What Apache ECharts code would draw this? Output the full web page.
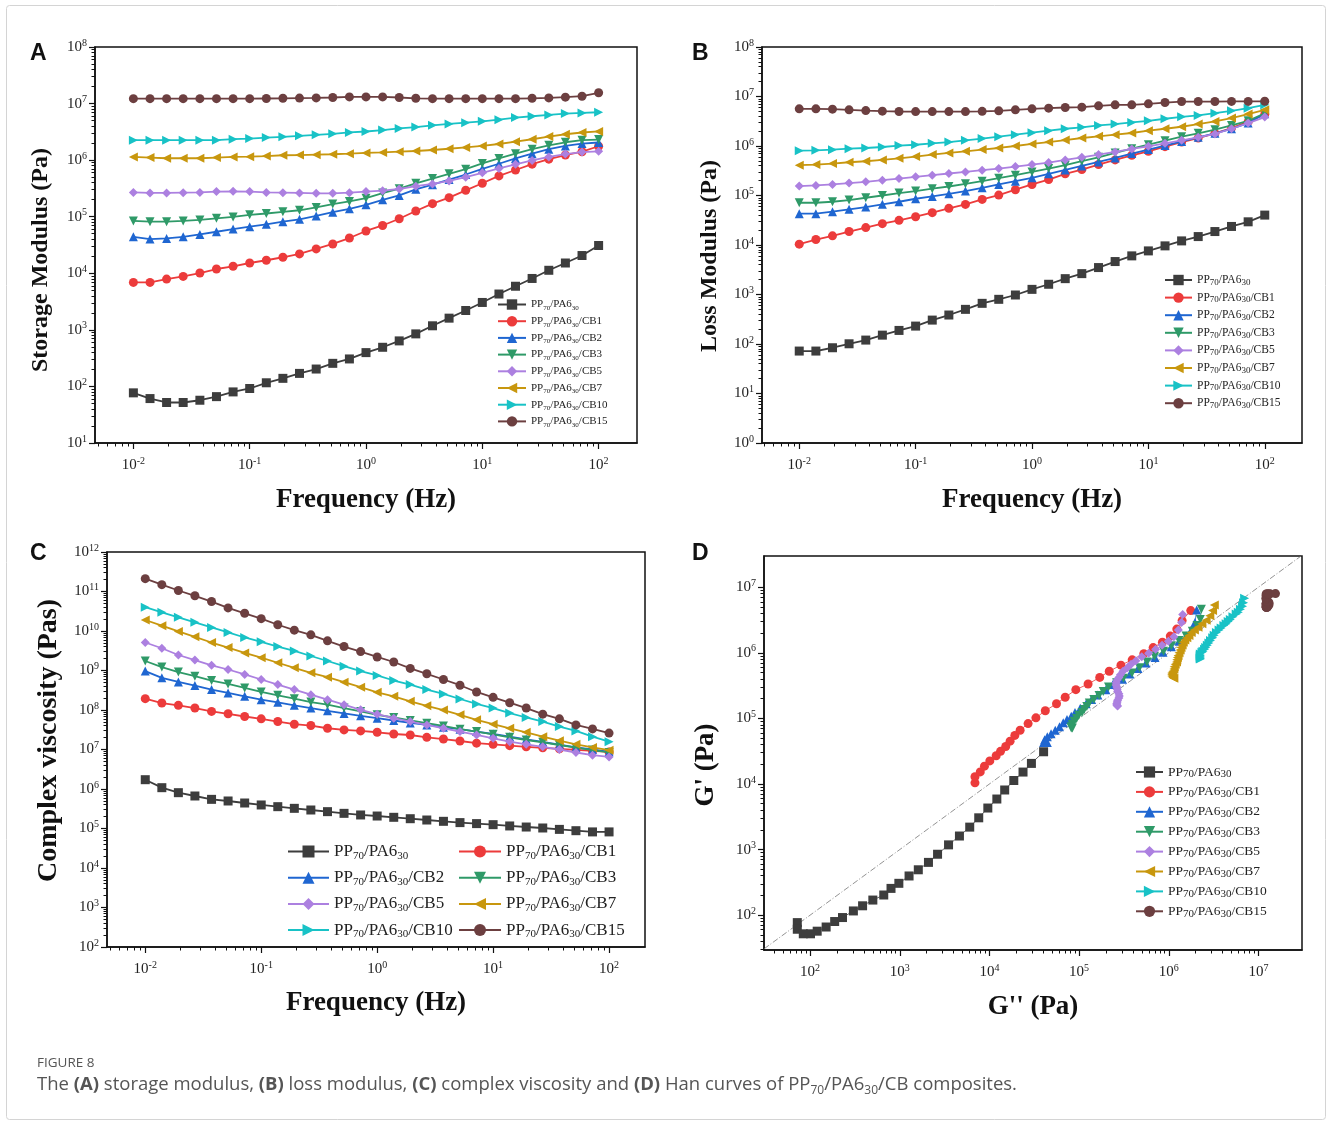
<!DOCTYPE html>
<html>
<head>
<meta charset="utf-8">
<title>Figure 8</title>
<script src="https://cdn.jsdelivr.net/npm/echarts@6/dist/echarts.min.js"></script>
<style>
  html, body { margin: 0; padding: 0; background: #fff; }
  #chart { width: 1328px; height: 1121px; }
</style>
</head>
<body>
<div id="chart"></div>
<script>
// frequency sweep, 7 points per decade
var freq = [0.01, 0.0139, 0.0193, 0.0268, 0.0373, 0.0518, 0.0720, 0.1, 0.139, 0.193, 0.268, 0.373, 0.518, 0.720,
  1, 1.39, 1.93, 2.68, 3.73, 5.18, 7.20, 10, 13.9, 19.3, 26.8, 37.3, 51.8, 72.0, 100];

var sampleNames = ['PP70/PA630', 'PP70/PA630/CB1', 'PP70/PA630/CB2', 'PP70/PA630/CB3',
  'PP70/PA630/CB5', 'PP70/PA630/CB7', 'PP70/PA630/CB10', 'PP70/PA630/CB15'];

// (A) storage modulus, Pa
var storagePP = [77, 61, 52, 52, 57, 66, 80, 92, 116, 139, 170, 203, 256, 306, 396, 492, 638, 849, 1180, 1610, 2200, 3050, 4300, 5900, 8100, 11300, 15200, 20600, 31000];
var storageCB1 = [6900, 6900, 7900, 8800, 10100, 11900, 13300, 15200, 17000, 19200, 22000, 27000, 33000, 42000, 56000, 70000, 92000, 126000, 170000, 217000, 293000, 391000, 527000, 670000, 850000, 1040000, 1230000, 1410000, 1760000];
var storageCB2 = [44200, 40200, 41300, 44200, 48700, 54200, 60500, 66600, 73300, 81800, 90100, 103000, 120000, 138000, 162000, 199000, 238000, 305000, 369000, 454000, 557000, 703000, 863000, 1070000, 1300000, 1560000, 1780000, 1960000, 2050000];
var storageCB3 = [84100, 81800, 81800, 84100, 87700, 93800, 99100, 108000, 114000, 122000, 130000, 146000, 167000, 186000, 213000, 262000, 313000, 390000, 472000, 572000, 693000, 875000, 1070000, 1300000, 1560000, 1830000, 2070000, 2250000, 2310000];
var storageCB5 = [269000, 263000, 263000, 266000, 269000, 278000, 281000, 278000, 269000, 266000, 263000, 259000, 259000, 266000, 278000, 289000, 309000, 346000, 380000, 430000, 500000, 597000, 714000, 842000, 990000, 1140000, 1280000, 1390000, 1430000];
var storageCB7 = [1.14e6, 1.11e6, 1.08e6, 1.08e6, 1.08e6, 1.11e6, 1.14e6, 1.15e6, 1.18e6, 1.22e6, 1.23e6, 1.25e6, 1.27e6, 1.30e6, 1.34e6, 1.37e6, 1.41e6, 1.45e6, 1.51e6, 1.59e6, 1.68e6, 1.78e6, 1.93e6, 2.12e6, 2.34e6, 2.61e6, 2.87e6, 3.08e6, 3.22e6];
var storageCB10 = [2.25e6, 2.25e6, 2.25e6, 2.25e6, 2.25e6, 2.25e6, 2.35e6, 2.41e6, 2.51e6, 2.58e6, 2.69e6, 2.8e6, 2.92e6, 3.09e6, 3.21e6, 3.4e6, 3.64e6, 3.84e6, 4.12e6, 4.36e6, 4.6e6, 4.86e6, 5.2e6, 5.65e6, 5.97e6, 6.3e6, 6.65e6, 6.83e6, 7.02e6];
var storageCB15 = [1.22e7, 1.22e7, 1.22e7, 1.22e7, 1.22e7, 1.22e7, 1.22e7, 1.22e7, 1.23e7, 1.24e7, 1.25e7, 1.26e7, 1.28e7, 1.31e7, 1.31e7, 1.31e7, 1.28e7, 1.24e7, 1.22e7, 1.22e7, 1.22e7, 1.22e7, 1.22e7, 1.22e7, 1.24e7, 1.26e7, 1.30e7, 1.35e7, 1.55e7];

// (B) loss modulus, Pa
var lossPP = [72, 72, 84, 101, 120, 151, 188, 230, 304, 385, 501, 663, 799, 977, 1270, 1610, 2090, 2640, 3500, 4630, 6030, 7600, 9600, 12100, 14800, 18700, 23700, 29400, 40200];
var lossCB1 = [10400, 12900, 15300, 18700, 22500, 27000, 31500, 37300, 45000, 55000, 66100, 83400, 102000, 131000, 167000, 210000, 274000, 334000, 422000, 524000, 649000, 782000, 970000, 1.2e6, 1.45e6, 1.8e6, 2.3e6, 3.1e6, 4.4e6];
var lossCB2 = [42900, 42900, 47100, 52500, 58500, 66200, 74800, 86000, 95800, 108000, 123000, 143000, 167000, 195000, 228000, 274000, 329000, 396000, 477000, 574000, 702000, 845000, 1.02e6, 1.24e6, 1.5e6, 1.8e6, 2.23e6, 2.9e6, 4.5e6];
var lossCB3 = [71400, 71400, 74800, 80900, 90100, 100000, 112000, 123000, 137000, 152000, 172000, 195000, 224000, 257000, 300000, 350000, 409000, 492000, 592000, 724000, 884000, 1.06e6, 1.28e6, 1.54e6, 1.8e6, 2.13e6, 2.61e6, 3.23e6, 4.6e6];
var lossCB5 = [155000, 160000, 167000, 178000, 189000, 204000, 220000, 238000, 257000, 278000, 300000, 324000, 350000, 384000, 422000, 462000, 524000, 592000, 670000, 759000, 871000, 986000, 1.13e6, 1.3e6, 1.5e6, 1.75e6, 2.23e6, 2.9e6, 3.84e6];
var lossCB7 = [409000, 422000, 442000, 470000, 492000, 524000, 565000, 611000, 670000, 724000, 782000, 845000, 912000, 1.0e6, 1.1e6, 1.2e6, 1.32e6, 1.45e6, 1.57e6, 1.69e6, 1.83e6, 2.04e6, 2.23e6, 2.45e6, 2.77e6, 3.14e6, 3.66e6, 4.41e6, 5.38e6];
var lossCB10 = [805000, 818000, 843000, 884000, 912000, 955000, 1.02e6, 1.06e6, 1.13e6, 1.2e6, 1.3e6, 1.41e6, 1.54e6, 1.69e6, 1.86e6, 2.04e6, 2.23e6, 2.38e6, 2.61e6, 2.77e6, 3.0e6, 3.23e6, 3.55e6, 3.89e6, 4.14e6, 4.61e6, 5.14e6, 5.81e6, 6.8e6];
var lossCB15 = [5.64e6, 5.64e6, 5.55e6, 5.38e6, 5.2e6, 5.05e6, 4.98e6, 4.95e6, 4.95e6, 4.95e6, 4.95e6, 5.02e6, 5.14e6, 5.38e6, 5.64e6, 5.81e6, 6.0e6, 6.09e6, 6.47e6, 6.78e6, 6.78e6, 7.1e6, 7.55e6, 7.91e6, 7.91e6, 7.91e6, 7.95e6, 7.95e6, 8.0e6];

// (C) complex viscosity, Pas
var viscPP = [1.72e6, 1.08e6, 8.07e5, 6.65e5, 5.47e5, 4.97e5, 4.42e5, 3.94e5, 3.57e5, 3.24e5, 2.94e5, 2.67e5, 2.42e5, 2.20e5, 2.07e5, 1.92e5, 1.77e5, 1.64e5, 1.52e5, 1.41e5, 1.33e5, 1.25e5, 1.16e5, 1.09e5, 1.03e5, 9.5e4, 8.8e4, 8.2e4, 8.2e4];
var viscCB1 = [1.94e8, 1.50e8, 1.31e8, 1.12e8, 9.2e7, 8.02e7, 6.85e7, 5.97e7, 5.11e7, 4.37e7, 4.04e7, 3.45e7, 3.13e7, 2.95e7, 2.73e7, 2.47e7, 2.33e7, 2.03e7, 1.84e7, 1.64e7, 1.45e7, 1.35e7, 1.25e7, 1.17e7, 1.10e7, 1.04e7, 9.8e6, 9.2e6, 8.7e6];
var viscCB2 = [9.66e8, 6.53e8, 5.15e8, 4.16e8, 3.29e8, 2.70e8, 2.22e8, 1.83e8, 1.56e8, 1.31e8, 1.12e8, 9.56e7, 8.17e7, 7.13e7, 6.21e7, 5.42e7, 4.72e7, 4.20e7, 3.66e7, 3.26e7, 2.84e7, 2.47e7, 2.11e7, 1.81e7, 1.55e7, 1.32e7, 1.13e7, 1.0e7, 8.75e6];
var viscCB3 = [1.74e9, 1.22e9, 9.1e8, 7.19e8, 5.57e8, 4.58e8, 3.62e8, 2.86e8, 2.35e8, 1.94e8, 1.59e8, 1.36e8, 1.12e8, 9.2e7, 7.55e7, 6.46e7, 5.42e7, 4.63e7, 3.96e7, 3.26e7, 2.84e7, 2.43e7, 2.03e7, 1.74e7, 1.52e7, 1.30e7, 1.11e7, 9.66e6, 8.42e6];
var viscCB5 = [5.11e9, 3.66e9, 2.47e9, 1.84e9, 1.35e9, 1.06e9, 7.94e8, 5.92e8, 4.41e8, 3.29e8, 2.45e8, 1.83e8, 1.36e8, 1.01e8, 7.86e7, 6.21e7, 5.11e7, 4.20e7, 3.45e7, 2.84e7, 2.33e7, 1.92e7, 1.58e7, 1.35e7, 1.17e7, 1.0e7, 8.4e6, 7.2e6, 6.5e6];
var viscCB7 = [1.90e10, 1.36e10, 9.75e9, 7.13e9, 5.11e9, 3.80e9, 2.78e9, 2.11e9, 1.57e9, 1.17e9, 8.75e8, 6.78e8, 5.06e8, 3.77e8, 2.81e8, 2.22e8, 1.66e8, 1.28e8, 9.94e7, 7.55e7, 5.63e7, 4.37e7, 3.45e7, 2.73e7, 2.11e7, 1.67e7, 1.35e7, 1.13e7, 9.6e6];
var viscCB10 = [4.0e10, 2.98e10, 2.22e10, 1.66e10, 1.23e10, 9.19e9, 6.85e9, 5.31e9, 4.04e9, 3.13e9, 2.33e9, 1.74e9, 1.29e9, 9.66e8, 7.48e8, 5.58e8, 4.41e8, 3.29e8, 2.55e8, 1.90e8, 1.42e8, 1.12e8, 8.34e7, 6.46e7, 5.11e7, 3.81e7, 2.95e7, 2.11e7, 1.58e7];
var viscCB15 = [2.11e11, 1.49e11, 1.06e11, 7.78e10, 5.57e10, 3.84e10, 2.81e10, 2.05e10, 1.44e10, 1.05e10, 8.0e9, 5.63e9, 4.04e9, 3.01e9, 2.20e9, 1.64e9, 1.13e9, 8.26e8, 5.92e8, 4.24e8, 2.86e8, 2.09e8, 1.53e8, 1.12e8, 7.86e7, 5.97e7, 4.20e7, 3.32e7, 2.6e7];

// tick exponents (labels read 10^n)
var freqExps = [-2, -1, 0, 1, 2];
var storageExps = [1, 2, 3, 4, 5, 6, 7, 8];
var lossExps = [0, 1, 2, 3, 4, 5, 6, 7, 8];
var viscExps = [2, 3, 4, 5, 6, 7, 8, 9, 10, 11, 12];
var hanExps = [2, 3, 4, 5, 6, 7];

var storage = [storagePP, storageCB1, storageCB2, storageCB3, storageCB5, storageCB7, storageCB10, storageCB15];
var loss = [lossPP, lossCB1, lossCB2, lossCB3, lossCB5, lossCB7, lossCB10, lossCB15];
var visc = [viscPP, viscCB1, viscCB2, viscCB3, viscCB5, viscCB7, viscCB10, viscCB15];

var colors = ['#3d3d3d', '#ec3b3b', '#1f66d1', '#2f9a68', '#ac80e0', '#c8970e', '#18c2c6', '#6c3f40'];
var markers = ['rect', 'circle', 'triangle', 'triangle', 'diamond', 'triangle', 'triangle', 'circle'];
var rotations = [0, 0, 0, 180, 0, 90, -90, 0];

var SERIF = '"Liberation Serif", "Times New Roman", serif';
var SANS = '"Liberation Sans", Arial, sans-serif';
var CAPTION = '"Open Sans", "Noto Sans", sans-serif';

function pow10(e) { return Math.pow(10, e); }

function minorTicks(lo, hi) {
  var out = [];
  for (var e = lo; e < hi; e++) {
    for (var m = 2; m <= 9; m++) out.push(m * Math.pow(10, e));
  }
  return out;
}

function powLabel(v) {
  var e = Math.round(Math.log10(v));
  return '{b|10}{e|' + e + '}';
}

var tickRich = {
  b: { fontFamily: SERIF, fontSize: 15, color: '#222', lineHeight: 18 },
  e: { fontFamily: SERIF, fontSize: 10, color: '#222', lineHeight: 10, verticalAlign: 'top' }
};

// pad shifts a rotated y name along the axis (right pad moves it down)
function mainAxis(dim, gi, min, max, exps, name, gap, margin, nameSize, pad) {
  var vals = exps.map(pow10);
  return {
    type: 'log', logBase: 10, gridIndex: gi, min: min, max: max,
    position: dim === 'x' ? 'bottom' : 'left',
    axisLine: { show: true, onZero: false, lineStyle: { color: '#111', width: 1.5 } },
    axisTick: { show: true, inside: false, length: 6, customValues: vals, lineStyle: { color: '#111', width: 1.2 } },
    axisLabel: { customValues: vals, formatter: powLabel, margin: margin, rich: tickRich },
    splitLine: { show: false },
    name: name, nameLocation: 'middle', nameGap: gap,
    nameTextStyle: { fontFamily: SERIF, fontWeight: 'bold', fontSize: nameSize, color: '#111', padding: pad || 0 }
  };
}

function minorAxis(dim, gi, min, max, lo, hi) {
  return {
    type: 'log', logBase: 10, gridIndex: gi, min: min, max: max,
    position: dim === 'x' ? 'bottom' : 'left',
    axisLine: { show: false },
    axisTick: { show: true, inside: false, length: 3.5, customValues: minorTicks(lo, hi), lineStyle: { color: '#111', width: 1 } },
    axisLabel: { show: false },
    splitLine: { show: false }
  };
}

var panelKeys = ['A', 'B', 'C', 'D'];

function seriesName(i, p) { return sampleNames[i] + '|' + panelKeys[p]; }

function makeSeries(p, i, points, lineWidth, size) {
  return {
    name: seriesName(i, p), type: 'line',
    xAxisIndex: p * 2, yAxisIndex: p * 2,
    data: points,
    symbol: markers[i], symbolRotate: rotations[i], symbolSize: size,
    showAllSymbol: true,
    lineStyle: { color: colors[i], width: lineWidth },
    itemStyle: { color: colors[i] },
    z: 2 + i
  };
}

// axis ranges of each panel
var freqMinA = pow10(-2.33), freqMaxA = pow10(2.33);
var freqMinB = pow10(-2.32), freqMaxB = pow10(2.32);
var freqMinC = pow10(-2.33), freqMaxC = pow10(2.31);
var hanXMin = pow10(1.486), hanXMax = pow10(7.486);
var hanYMin = pow10(1.469), hanYMax = pow10(7.476);

var series = [];
storage.forEach(function (arr, i) {
  series.push(makeSeries(0, i, freq.map(function (f, k) { return [f, arr[k]]; }), 1.8, 9));
});
loss.forEach(function (arr, i) {
  series.push(makeSeries(1, i, freq.map(function (f, k) { return [f, arr[k]]; }), 1.8, 9));
});
visc.forEach(function (arr, i) {
  series.push(makeSeries(2, i, freq.map(function (f, k) { return [f, arr[k]]; }), 1.8, 9));
});
// Han plot: the source figure plots the neat blend as (G'', G') and the CB blends as (G', G'')
storage.forEach(function (arr, i) {
  var pts = freq.map(function (f, k) {
    return i === 0 ? [loss[i][k], arr[k]] : [arr[k], loss[i][k]];
  });
  series.push(makeSeries(3, i, pts, 0.8, 9));
});
series.push({
  name: 'diagonal', type: 'line', xAxisIndex: 6, yAxisIndex: 6,
  data: [[hanXMin, hanXMin], [hanXMax, hanXMax]],
  symbol: 'none', silent: true, z: 1,
  lineStyle: { color: '#777', width: 0.8, type: [6, 2, 1, 2] }
});

function legendLabel(name) {
  var key = name.split('|')[0];
  var tail = key.replace('PP70/PA630', '');
  return '{t|PP}{s|70}{t|/PA6}{s|30}{t|' + tail + '}';
}

function legendRich(fs, lh, sfs) {
  return {
    t: { fontFamily: SERIF, fontSize: fs, lineHeight: lh, color: '#222' },
    s: { fontFamily: SERIF, fontSize: sfs, lineHeight: sfs + 1, color: '#222', verticalAlign: 'bottom' }
  };
}

function legendBox(p, idx, left, top, itemW, itemH, gap, fs, lh, sfs) {
  return {
    orient: 'vertical', left: left, top: top, padding: 0,
    itemWidth: itemW, itemHeight: itemH, itemGap: gap,
    selectedMode: false,
    data: idx.map(function (i) { return seriesName(i, p); }),
    formatter: legendLabel,
    textStyle: { rich: legendRich(fs, lh, sfs) }
  };
}

function letter(t, left, top) {
  return { text: t, left: left, top: top, padding: 0,
    textStyle: { fontFamily: SANS, fontWeight: 'bold', fontSize: 23, color: '#111' } };
}

var option = {
  animation: false,
  backgroundColor: '#fff',
  graphic: [{
    type: 'rect', left: 4, top: 3,
    shape: { width: 1319, height: 1114, r: 3 },
    style: { fill: 'none', stroke: '#d4d4d4', lineWidth: 1 },
    silent: true
  }],
  title: [
    letter('A', 30, 42),
    letter('B', 692, 42),
    letter('C', 30, 542),
    letter('D', 692, 542),
    {
      left: 37, top: 1054, padding: 0,
      text: '{f|FIGURE 8}\n{n|The }{b|(A)}{n| storage modulus, }{b|(B)}{n| loss modulus, }{b|(C)}{n| complex viscosity and }{b|(D)}{n| Han curves of PP}{s|70}{n|/PA6}{s|30}{n|/CB composites.}',
      textStyle: {
        fontWeight: 'normal',
        rich: {
          f: { fontFamily: CAPTION, fontSize: 13.5, fontWeight: 'normal', color: '#555', lineHeight: 19 },
          n: { fontFamily: CAPTION, fontSize: 18.5, fontWeight: 'normal', color: '#555', lineHeight: 24 },
          b: { fontFamily: CAPTION, fontSize: 18.5, fontWeight: 'bold', color: '#555', lineHeight: 24 },
          s: { fontFamily: CAPTION, fontSize: 12, fontWeight: 'normal', color: '#555', lineHeight: 13, verticalAlign: 'bottom' }
        }
      }
    }
  ],
  grid: [
    { left: 95, top: 47, width: 542, height: 396 },
    { left: 762, top: 47, width: 540, height: 396 },
    { left: 107, top: 552, width: 538, height: 395 },
    { left: 764, top: 556, width: 538, height: 394 }
  ].map(function (g) {
    g.show = true; g.borderColor = '#111'; g.borderWidth = 1.5;
    g.backgroundColor = 'transparent'; g.outerBoundsMode = 'none';
    return g;
  }),
  xAxis: [
    mainAxis('x', 0, freqMinA, freqMaxA, freqExps, 'Frequency (Hz)', 44, 13, 27),
    minorAxis('x', 0, freqMinA, freqMaxA, -3, 2),
    mainAxis('x', 1, freqMinB, freqMaxB, freqExps, 'Frequency (Hz)', 44, 13, 27),
    minorAxis('x', 1, freqMinB, freqMaxB, -3, 2),
    mainAxis('x', 2, freqMinC, freqMaxC, freqExps, 'Frequency (Hz)', 43, 13, 27),
    minorAxis('x', 2, freqMinC, freqMaxC, -3, 2),
    mainAxis('x', 3, hanXMin, hanXMax, hanExps, "G'' (Pa)", 44, 13, 27),
    minorAxis('x', 3, hanXMin, hanXMax, 1, 7)
  ],
  yAxis: [
    mainAxis('y', 0, 10, 1e8, storageExps, 'Storage Modulus (Pa)', 42, 8, 24, [0, 30, 0, 0]),
    minorAxis('y', 0, 10, 1e8, 1, 8),
    mainAxis('y', 1, 1, 1e8, lossExps, 'Loss Modulus (Pa)', 40, 8, 24, [0, 22, 0, 0]),
    minorAxis('y', 1, 1, 1e8, 0, 8),
    mainAxis('y', 2, 1e2, 1e12, viscExps, 'Complex viscosity (Pas)', 44, 8, 28, [0, 0, 0, 18]),
    minorAxis('y', 2, 1e2, 1e12, 2, 12),
    mainAxis('y', 3, hanYMin, hanYMax, hanExps, "G' (Pa)", 44, 8, 27, [0, 24, 0, 0]),
    minorAxis('y', 3, hanYMin, hanYMax, 1, 7)
  ],
  legend: [
    legendBox(0, [0, 1, 2, 3, 4, 5, 6, 7], 497, 299, 28, 13, 4.2, 11, 14, 7),
    legendBox(1, [0, 1, 2, 3, 4, 5, 6, 7], 1164, 274, 27, 13, 4.6, 11.5, 14, 9),
    legendBox(2, [0, 2, 4, 6], 287, 843, 41, 15, 7.7, 17, 20, 11),
    legendBox(2, [1, 3, 5, 7], 458, 843, 42, 15, 7.7, 17, 20, 11),
    legendBox(3, [0, 1, 2, 3, 4, 5, 6, 7], 1135, 765, 27, 14, 4.9, 13.5, 16, 11)
  ],
  series: series
};

var chart = echarts.init(document.getElementById('chart'), null, { renderer: 'canvas' });
chart.setOption(option);
</script>
</body>
</html>
